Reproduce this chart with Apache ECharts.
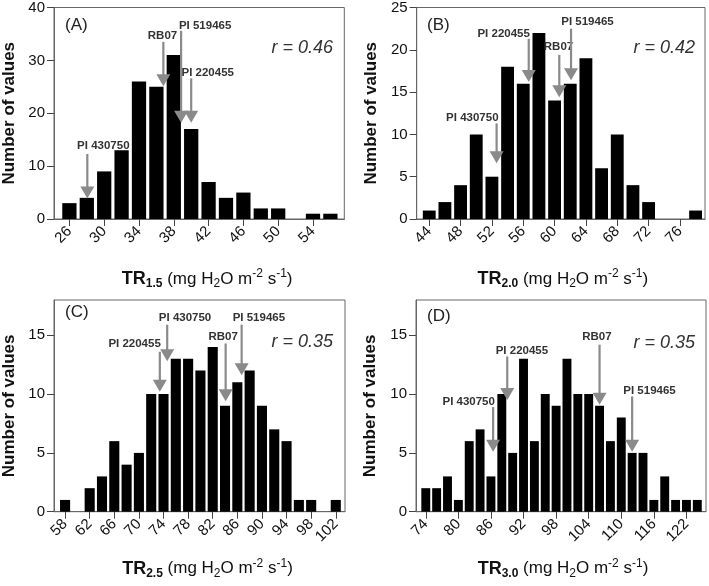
<!DOCTYPE html>
<html><head><meta charset="utf-8">
<script src="https://cdn.jsdelivr.net/npm/echarts@6/dist/echarts.min.js"></script>
<style>html,body{margin:0;padding:0;background:#fff}#c{width:709px;height:586px}</style>
</head><body><div id="c"></div>
<script>
// ---- data ----
const binsA = [26,28,30,32,34,36,38,40,42,44,46,48,50,52,54,56];
const countsA = [3,4,9,13,26,25,31,17,7,4,5,2,2,0,1,1];
const binsB = [44,46,48,50,52,54,56,58,60,62,64,66,68,70,72,74,76,78];
const countsB = [1,2,4,10,5,18,16,22,14,16,19,6,10,4,2,0,0,1];
const binsC = [58,60,62,64,66,68,70,72,74,76,78,80,82,84,86,88,90,92,94,96,98,100,102];
const countsC = [1,0,2,3,6,4,5,10,10,13,13,12,14,9,11,12,9,7,6,1,1,0,1];
const binsD = [74,76,78,80,82,84,86,88,90,92,94,96,98,100,102,104,106,108,110,112,114,116,118,120,122,124];
const countsD = [2,2,3,1,6,7,3,10,5,13,6,10,9,13,10,10,9,6,8,5,5,1,3,1,1,1];

const xTicksA = [26,30,34,38,42,46,50,54];
const xTicksB = [44,48,52,56,60,64,68,72,76];
const xTicksC = [58,62,66,70,74,78,82,86,90,94,98,102];
const xTicksD = [74,80,86,92,98,104,110,116,122];
const yTicksA = [0,10,20,30,40];
const yTicksB = [0,5,10,15,20,25];
const yTicksC = [0,5,10,15];
const yTicksD = [0,5,10,15];

// annotations: genotype names, arrow x, tip y, shaft-top y, label x, label y (data units)
const annNamesA = ['PI 430750','RB07','PI 519465','PI 220455'];
const annA = [[28.06,3.9,12.3,29.9,13.9],[36.8,25.1,33.5,36.7,34.6],[38.84,18.2,35.6,41.6,36.5],[40.0,18.2,26.6,41.9,27.7]];
const annNamesB = ['PI 430750','PI 220455','RB07','PI 519465'];
const annB = [[52.6,6.6,11.3,49.5,11.9],[56.7,16.2,21.3,53.5,21.9],[60.6,14.4,19.4,60.5,20.4],[62.1,16.4,22.5,64.2,23.3]];
const annNamesC = ['PI 220455','PI 430750','RB07','PI 519465'];
const annC = [[73.4,10.2,13.6,69.3,14.3],[74.6,12.8,15.9,77.5,16.5],[84.1,9.4,14.3,83.7,14.9],[86.7,11.6,15.9,89.5,16.5]];
const annNamesD = ['PI 430750','PI 220455','RB07','PI 519465'];
const annD = [[86.4,5.1,8.9,81.9,9.3],[89.0,9.5,13.2,91.7,13.7],[106.0,9.1,14.2,105.5,14.9],[112.0,5.1,9.8,115.2,10.3]];

const panelLetters = ['(A)','(B)','(C)','(D)'];
const rValues = ['r = 0.46','r = 0.42','r = 0.35','r = 0.35'];
const subs = ['1.5','2.0','2.5','3.0'];

// ---- styles ----
const FONT = "'Liberation Sans', Arial, Helvetica, sans-serif";
const AX = '#666';
const ARROW = '#8a8a8a';
const HALF = 0.82;

const grids = [
  {left:53.3, top:5.5, width:291, height:213.5},
  {left:416.7, top:5.5, width:288.3, height:213.5},
  {left:53.3, top:300, width:291.7, height:211.7},
  {left:416, top:300, width:290, height:211.7}
].map(g => Object.assign(g, {show:true, borderColor:AX, borderWidth:1, backgroundColor:'transparent'}));

const xRanges = [[24.23,57.6],[42.4,79.2],[56.2,103.5],[72.2,125.6]];
const yMax = [40,25,18,18];
const xTicks = [xTicksA,xTicksB,xTicksC,xTicksD];
const yTicks = [yTicksA,yTicksB,yTicksC,yTicksD];
const nameGaps = [49,49,46,46];

function nameRich(sub){
  return '{b|TR}{bs|' + sub + '}{n| (mg H}{s|2}{n|O m}{p|-2}{n| s}{p|-1}{n|)}';
}
const rich = {
  b:{fontFamily:FONT,fontWeight:'bold',fontSize:18,color:'#111',lineHeight:22},
  bs:{fontFamily:FONT,fontWeight:'bold',fontSize:12,color:'#111',lineHeight:13,verticalAlign:'bottom'},
  n:{fontFamily:FONT,fontSize:17,color:'#111',lineHeight:22},
  s:{fontFamily:FONT,fontSize:12,color:'#111',lineHeight:13,verticalAlign:'bottom'},
  p:{fontFamily:FONT,fontSize:12,color:'#111',lineHeight:13,verticalAlign:'top'}
};

const xAxes = [0,1,2,3].map(i => ({
  type:'value', gridIndex:i, min:xRanges[i][0], max:xRanges[i][1],
  splitLine:{show:false},
  axisLine:{show:true, onZero:false, lineStyle:{color:AX,width:1}},
  axisTick:{show:true, length:7, customValues:xTicks[i], lineStyle:{color:'#444',width:1}},
  axisLabel:{customValues:xTicks[i], rotate:45, margin:10, fontSize:15, fontFamily:FONT, color:'#111'},
  name:nameRich(subs[i]), nameLocation:'middle', nameGap:nameGaps[i],
  nameTextStyle:{rich:rich, padding:[0,0,0,(i%2===0?16:4)]}
}));
const yAxes = [0,1,2,3].map(i => ({
  type:'value', gridIndex:i, min:0, max:yMax[i],
  splitLine:{show:false},
  axisLine:{show:true, lineStyle:{color:AX,width:1}},
  axisTick:{show:true, length:7, customValues:yTicks[i], lineStyle:{color:'#444',width:1}},
  axisLabel:{customValues:yTicks[i], margin:9, fontSize:15, fontFamily:FONT, color:'#111'},
  name:'Number of values', nameLocation:'middle', nameGap:(i%2===0?36:37), nameRotate:90,
  nameTextStyle:{fontFamily:FONT, fontWeight:'bold', fontSize:17, color:'#111'}
}));

function barItem(params, api){
  const x = api.value(0), y = api.value(1);
  if (!y) return null;
  const p0 = api.coord([x - HALF, y]);
  const p1 = api.coord([x + HALF, 0]);
  return {type:'rect', shape:{x:p0[0], y:p0[1], width:p1[0]-p0[0], height:p1[1]-p0[1]}, style:{fill:'#000'}};
}
function arrowFactory(names){
  return function(params, api){
    const x = api.value(0), tip = api.value(1), top = api.value(2), lx = api.value(3), ly = api.value(4);
    const pTip = api.coord([x, tip]);
    const pTop = api.coord([x, top]);
    const pL = api.coord([lx, ly]);
    const head = 12, hw = 7;
    return {type:'group', children:[
      {type:'line', shape:{x1:pTop[0], y1:pTop[1], x2:pTip[0], y2:pTip[1]-head+1}, style:{stroke:ARROW, lineWidth:2.2}},
      {type:'polygon', shape:{points:[[pTip[0]-hw,pTip[1]-head],[pTip[0]+hw,pTip[1]-head],[pTip[0],pTip[1]]]}, style:{fill:ARROW}},
      {type:'text', x:pL[0], y:pL[1], style:{text:names[params.dataIndex], font:'bold 11.5px ' + FONT, fill:'#333', align:'center', verticalAlign:'middle'}}
    ]};
  };
}

const bins = [binsA,binsB,binsC,binsD];
const counts = [countsA,countsB,countsC,countsD];
const anns = [annA,annB,annC,annD];
const annNames = [annNamesA,annNamesB,annNamesC,annNamesD];

const series = [];
for (let i=0;i<4;i++){
  series.push({type:'custom', xAxisIndex:i, yAxisIndex:i, renderItem:barItem, clip:false,
    data:bins[i].map((b,k)=>[b,counts[i][k]]), silent:true, z:2});
  series.push({type:'custom', xAxisIndex:i, yAxisIndex:i, renderItem:arrowFactory(annNames[i]), clip:false,
    data:anns[i], silent:true, z:3});
}

const letterPos = [[65,25],[427,25],[65,312],[427,316]];
const rPos = [[333,48],[695,48],[333,342],[695,343]];
const graphic = [];
for (let i=0;i<4;i++){
  graphic.push({type:'text', x:letterPos[i][0], y:letterPos[i][1],
    style:{text:panelLetters[i], font:'17px ' + FONT, fill:'#222', align:'left', verticalAlign:'middle'}});
  graphic.push({type:'text', x:rPos[i][0], y:rPos[i][1],
    style:{text:rValues[i], font:'italic 18px ' + FONT, fill:'#333', align:'right', verticalAlign:'middle'}});
}

const chart = echarts.init(document.getElementById('c'), null, {renderer:'canvas'});
chart.setOption({
  animation:false,
  backgroundColor:'#fff',
  grid:grids,
  xAxis:xAxes,
  yAxis:yAxes,
  series:series,
  graphic:graphic
});
</script>
</body></html>
